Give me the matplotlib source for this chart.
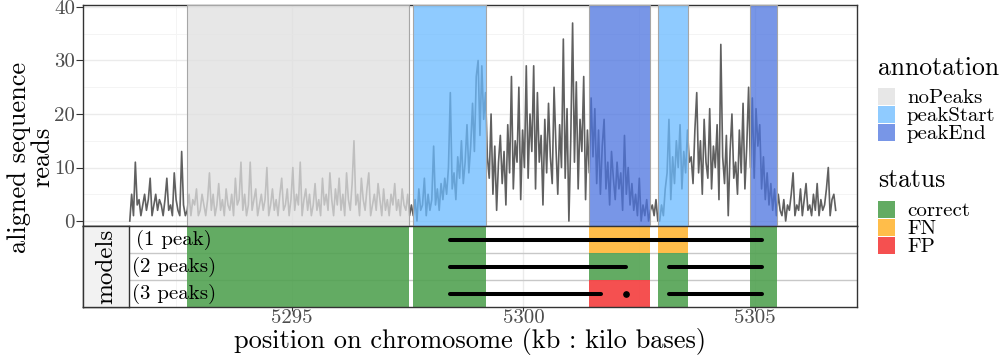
import numpy as np
import matplotlib
matplotlib.use("Agg")
import matplotlib.pyplot as plt
from matplotlib.patches import Rectangle
from matplotlib.colors import to_rgba

plt.rcParams['font.family'] = 'cmr10'
plt.rcParams['mathtext.fontset'] = 'cm'
plt.rcParams['axes.unicode_minus'] = False

# coverage, one value every 40 bases from 5291.5 kb
signal_start = 5291.5
signal_step = 0.04
coverage = [
    # before the noPeaks region
    0, 5, 1, 11, 3, 4, 1, 3, 5, 2, 4, 8, 1, 3, 5, 2, 4, 3, 1, 4, 8, 2, 3, 1, 9, 4, 2, 1, 13, 3, 1,
    # noPeaks
    2, 5, 1, 4, 3, 6, 1, 2, 5, 3,
    1, 4, 9, 2, 5, 1, 3, 7, 2, 4,
    1, 6, 3, 2, 5, 1, 8, 3, 4, 11,
    2, 5, 1, 3, 11, 2, 4, 6, 1, 3,
    5, 2, 4, 10, 1, 3, 6, 2, 4, 1,
    5, 8, 2, 3, 6, 1, 4, 10, 2, 5,
    3, 11, 1, 4, 6, 2, 5, 1, 3, 7,
    2, 4, 1, 8, 3, 5, 2, 9, 4, 1,
    6, 3, 8, 2, 5, 1, 9, 4, 2, 7,
    15, 3, 5, 1, 8, 4, 2, 6, 9, 1,
    3, 5, 2, 7, 4, 1, 6, 2, 4, 1,
    5, 3, 7, 2, 4, 1, 6, 3, 2, 5, 1,
    3,
    # first peakStart
    1, 4, 0, 6, 2, 3, 8, 1, 5, 2,
    4, 14, 3, 6, 2, 7, 4, 8,
    5, 10, 24, 6, 9, 4, 12, 8,
    15, 7, 11, 18, 9, 14, 22,
    13, 27, 30, 16, 29, 19, 24,
    # peak
    12, 8, 20, 5, 14, 2, 11, 16, 7, 13, 3,
    18, 9, 27, 6, 15, 11, 25, 4, 17, 10, 29,
    8, 20, 13, 29, 6, 24, 11, 16, 3, 19, 9,
    22, 12, 7, 25, 14, 5, 18, 10, 34, 8, 21,
    0, 15, 37, 11, 26, 6, 19, 13, 27, 4, 17,
    # first peakEnd
    9, 23, 12, 21, 7, 17, 5, 14, 19, 6, 11, 3,
    13, 8, 4, 11, 6, 9, 2, 16, 5, 10, 3,
    7, 2, 5, 1, 8, 0, 3, 1, 4, 0, 2,
    3, 1, 4, 0,
    # second peakStart
    0, 3, 1, 6, 9, 19, 4, 12, 7, 15, 10, 18, 6, 13, 9, 17, 11,
    # peak
    12, 7, 17, 24, 9, 15, 5, 19, 11, 8, 21,
    6, 14, 10, 18, 4, 33, 12, 7, 16, 1, 13,
    20, 8, 11, 5, 17, 9, 22, 6, 14, 25, 10,
    # second peakEnd
    23, 8, 21, 14, 18, 6, 12, 4, 9, 3, 7, 2, 6, 1, 5,
    # after
    2, 1, 4, 0, 3, 2, 5, 9, 1, 3, 2, 6, 1, 4, 7, 2, 3, 1, 5, 2,
    7, 1, 4, 2, 3, 6, 10, 1, 4, 5, 2,
]

# labelled regions (kb)
ann_start = [5292.73, 5297.61, 5301.41, 5302.90, 5304.89]
ann_end = [5297.53, 5299.19, 5302.73, 5303.55, 5305.48]
ann_type = ['noPeaks', 'peakStart', 'peakEnd', 'peakStart', 'peakEnd']
ann_colors = {'noPeaks': '#e0e0e0', 'peakStart': '#6abaff', 'peakEnd': '#4b73e0'}

# error status of each region, one row per model
model_labels = ['(1 peak)', '(2 peaks)', '(3 peaks)']
status = [
    ['correct', 'correct', 'FN', 'FN', 'correct'],
    ['correct', 'correct', 'correct', 'correct', 'correct'],
    ['correct', 'correct', 'FP', 'correct', 'correct'],
]
status_colors = {'correct': '#52a252', 'FN': '#ffb636', 'FP': '#f43d3d'}

# peak segments of each model (start == end is a single point)
seg_model = [1, 2, 2, 3, 3, 3]
seg_start = [5298.41, 5298.41, 5303.14, 5298.41, 5302.21, 5303.14]
seg_end = [5305.15, 5302.22, 5305.15, 5301.68, 5302.21, 5305.15]

W, H = 1003, 358
xlim = (5290.49, 5307.20)

fig = plt.figure(figsize=(W / 100, H / 100), dpi=100)
ax = fig.add_axes([83 / W, 1 - 226 / H, 774 / W, 221 / H])
axm = fig.add_axes([83 / W, 1 - 307 / H, 774 / W, 81 / H])

for a in (ax, axm):
    a.set_xlim(*xlim)
    a.set_xticks([5295, 5300, 5305])
    a.set_xticks([5292.5, 5297.5, 5302.5], minor=True)
    a.grid(which='major', color='#ebebeb', lw=1.0)
    a.grid(which='minor', color='#f4f4f4', lw=0.7)
    a.set_axisbelow(True)
    a.tick_params(which='minor', length=0)
    for sp in a.spines.values():
        sp.set_color('#333333')
        sp.set_linewidth(1.0)

# top panel: coverage + annotations
x = signal_start + signal_step * np.arange(len(coverage))
ax.plot(x, coverage, color='#606060', lw=1.2, zorder=2)
for s, e, t in zip(ann_start, ann_end, ann_type):
    ax.axvspan(s, e, fc=to_rgba(ann_colors[t], 0.75), ec='#a6a6a6', lw=0.8, zorder=3)
ax.set_ylim(-0.93, 40.37)
ax.set_yticks([0, 10, 20, 30, 40])
ax.set_yticks([5, 15, 25, 35], minor=True)
ax.tick_params(axis='x', which='both', length=0, labelbottom=False)
ax.tick_params(axis='y', which='major', length=5, width=0.8, color='#333333',
               labelsize=15, labelcolor='#4d4d4d', pad=0.8)

# bottom panel: models
for i, row in enumerate(status):
    for s, e, st in zip(ann_start, ann_end, row):
        axm.add_patch(Rectangle((s, i + 0.5), e - s, 1, fc=to_rgba(status_colors[st], 0.9),
                                ec='none', zorder=2))
for yl in [1.5, 2.5]:
    axm.axhline(yl, color='#c8c8c8', lw=1.0, zorder=1)
for m, s, e in zip(seg_model, seg_start, seg_end):
    if s == e:
        axm.plot([s], [m], 'o', color='black', ms=3.8, zorder=4)
    else:
        axm.plot([s, e], [m, m], color='black', lw=2.9, solid_capstyle='round', zorder=4)
for i, lab in enumerate(model_labels):
    axm.text(5292.45, i + 1, lab, ha='center', va='center', fontsize=15, zorder=5)
axm.set_ylim(3.5, 0.5)
axm.set_yticks([])
axm.tick_params(axis='x', which='major', length=3, width=0.8, color='#333333',
                labelsize=15, labelcolor='#4d4d4d', pad=-1.5)

# strip on the left of the models panel
sax = fig.add_axes([83 / W, 1 - 307 / H, 46 / W, 81 / H])
sax.set_facecolor('#f2f2f2')
sax.set_xticks([])
sax.set_yticks([])
for sp in sax.spines.values():
    sp.set_color('#333333')
    sp.set_linewidth(1.0)
sax.text(0.5, 0.5, 'models', rotation=90, ha='center', va='center', fontsize=18,
         transform=sax.transAxes)

fig.text(470 / W, 1 - 348 / H, 'position on chromosome (kb : kilo bases)',
         ha='center', va='baseline', fontsize=19)
fig.text(31 / W, 1 - 157 / H, 'aligned sequence\nreads', rotation=90, ha='center',
         va='center', multialignment='center', fontsize=19, linespacing=0.95)

# legend drawn in pixel coords
lax = fig.add_axes([0, 0, 1, 1])
lax.set_xlim(0, W)
lax.set_ylim(H, 0)
lax.axis('off')
lax.text(878, 75, 'annotation', fontsize=18.5, va='baseline')
for k, lab in enumerate(['noPeaks', 'peakStart', 'peakEnd']):
    top = 88 + 18 * k
    lax.add_patch(Rectangle((878, top), 17, 17, fc=to_rgba(ann_colors[lab], 0.75), ec='none'))
    lax.text(907, top + 15, lab, fontsize=15, va='baseline')
lax.text(878, 187, 'status', fontsize=18.5, va='baseline')
for k, lab in enumerate(['correct', 'FN', 'FP']):
    top = 201 + 18 * k
    lax.add_patch(Rectangle((878, top), 17, 17, fc=to_rgba(status_colors[lab], 0.9), ec='none'))
    lax.text(907, top + 15, lab, fontsize=15, va='baseline')

fig.savefig('out.png', dpi=100)
